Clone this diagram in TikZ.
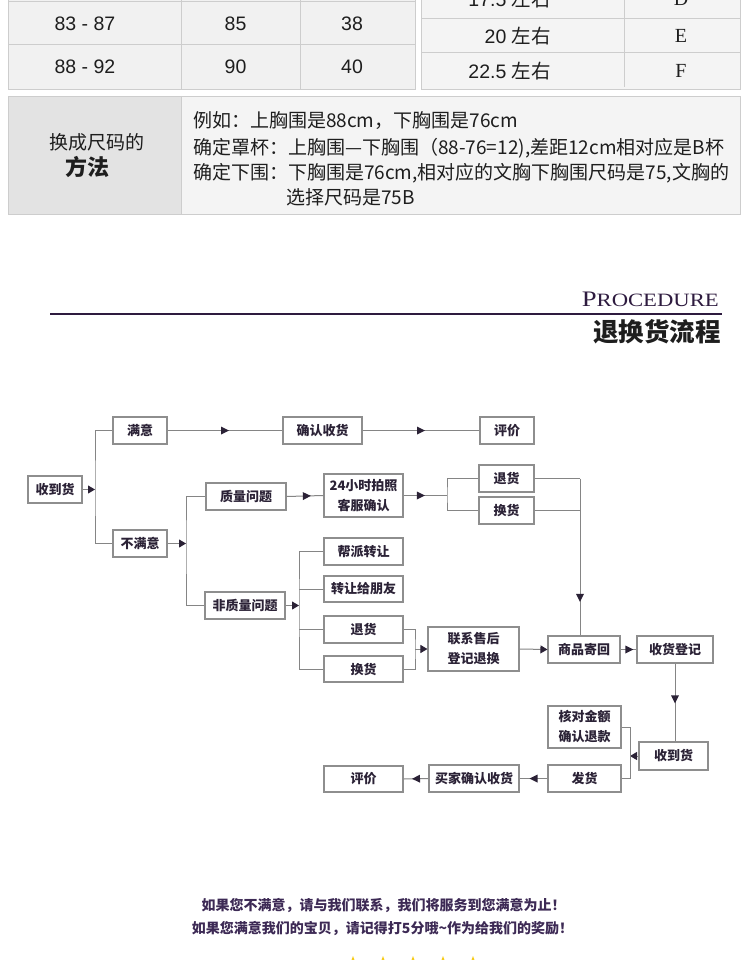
\documentclass[tikz,border=0pt]{standalone}
\usepackage{fontspec}
\setmainfont{Liberation Sans}
\newfontfamily\cjk{Noto Sans CJK SC}
\newfontfamily\serifE{Liberation Serif}
\usetikzlibrary{arrows.meta,decorations.markings,shapes.geometric}
\definecolor{cellbg}{HTML}{F1F1F1}
\definecolor{cellbgb}{HTML}{F4F4F4}
\definecolor{leftbg}{HTML}{E3E3E3}
\definecolor{cellln}{HTML}{CDCDCD}
\definecolor{txt}{HTML}{1E1E1E}
\definecolor{boxln}{HTML}{8E8E8E}
\definecolor{flowtxt}{HTML}{2B2236}
\definecolor{lnc}{HTML}{858585}
\definecolor{arr}{HTML}{2B2236}
\definecolor{purp}{HTML}{2E1B3F}
\definecolor{msg}{HTML}{3D2A55}
\definecolor{staryellow}{HTML}{F6CB1A}
\tikzset{
  fbox/.style={draw=boxln, line width=1.1pt, fill=white, minimum height=27pt, inner sep=0pt,
    font=\cjk\bfseries\fontsize{13}{20}\selectfont, text=flowtxt, align=center},
  conn/.style={draw=lnc, line width=1pt},
  midarrow/.style={postaction={decorate}, decoration={markings,
    mark=at position #1 with {\fill[arr] (-4pt,-4pt) -- (4pt,0pt) -- (-4pt,4pt) -- cycle;}}},
  endarrow/.style={-{Triangle[length=7pt,width=8pt,color=arr]}},
  tabnum/.style={font=\fontsize{19.5}{19.5}\selectfont, text=txt, inner sep=0pt},
  tabletter/.style={font=\serifE\fontsize{20}{20}\selectfont, text=txt, inner sep=0pt},
  methodtxt/.style={font=\cjk\fontsize{19}{19}\selectfont, text=txt, inner sep=0pt, anchor=west},
  msgtext/.style={font=\cjk\bfseries\fontsize{14}{14}\selectfont, text=msg, inner sep=0pt},
  staricon/.style={star, star points=5, star point ratio=2.4, fill=staryellow, minimum size=28pt, inner sep=0pt}
}
\begin{document}
\begin{tikzpicture}[x=1pt,y=-1pt]
\useasboundingbox (0,0) rectangle (750,960);
\fill[white] (0,0) rectangle (750,960);

% ---- top size tables
\fill[cellbg] (8,-10) rectangle (415,89);
\draw[cellln, line width=0.9pt] (8,-10) -- (8,89) -- (415,89) -- (415,-10);
\draw[cellln, line width=0.9pt] (8,1.5) -- (415,1.5) (8,44.5) -- (415,44.5) (181,-10) -- (181,89) (300,-10) -- (300,89);
\node[tabnum] (a1) at (85,24) {83 - 87};
\node[tabnum] (a2) at (235.5,24) {85};
\node[tabnum] (a3) at (352,24) {38};
\node[tabnum] (b1) at (85,67) {88 - 92};
\node[tabnum] (b2) at (235.5,67) {90};
\node[tabnum] (b3) at (352,67) {40};

\fill[cellbgb] (421,-10) rectangle (740,89);
\draw[cellln, line width=0.9pt] (421,-10) -- (421,89) -- (740,89) -- (740,-10);
\draw[cellln, line width=0.9pt] (421,18) -- (740,18) (421,52.5) -- (740,52.5) (624,-10) -- (624,87);
\node[tabnum, anchor=east] (c1) at (551,-1) {17.5 {\cjk 左右}};
\node[tabletter] (c2) at (681,-1) {D};
\node[tabnum, anchor=east] (d1) at (551,36) {20 {\cjk 左右}};
\node[tabletter] (d2) at (681,36) {E};
\node[tabnum, anchor=east] (e1) at (551,71) {22.5 {\cjk 左右}};
\node[tabletter] (e2) at (681,71) {F};

% ---- method table
\fill[leftbg] (8,96) rectangle (181,214);
\fill[cellbgb] (181,96) rectangle (740,214);
\draw[cellln, line width=0.9pt] (8,96) rectangle (740,214) (181,96) -- (181,214);
\node[font=\cjk\fontsize{19}{19}\selectfont, text=txt, inner sep=0pt] (m0) at (97,142) {换成尺码的};
\node[font=\cjk\bfseries\fontsize{22}{22}\selectfont, text=txt, inner sep=0pt] (m00) at (87,167) {方法};
\node[methodtxt] (t1) at (193,121) {例如：上胸围是88cm，下胸围是76cm};
\node[methodtxt] (t2) at (193,148) {确定罩杯：上胸围—下胸围（88-76=12),差距12cm相对应是B杯};
\node[methodtxt] (t3) at (193,173) {确定下围：下胸围是76cm,相对应的文胸下胸围尺码是75,文胸的};
\node[methodtxt] (t4) at (286,197) {选择尺码是75B};

% ---- header
\node[anchor=base east, inner sep=0pt, text=purp] (proc) at (719,306)
  {\resizebox{137pt}{14.5pt}{\serifE\fontsize{20}{20}\selectfont P\fontsize{17}{17}\selectfont ROCEDURE}};
\draw[purp, line width=1.2pt] (50,314) -- (722,314);
\node[anchor=east, inner sep=0pt, font=\cjk\bfseries\fontsize{25.5}{25.5}\selectfont, text=txt] (title) at (721,332) {退换货流程};

% ---- flowchart nodes
\node[fbox, minimum width=54pt] (shou1) at (55,489.5) {收到货};
\node[fbox, minimum width=54pt] (manyi) at (140,430.5) {满意};
\node[fbox, minimum width=54pt] (bumanyi) at (140,543.5) {不满意};
\node[fbox, minimum width=79pt] (queren) at (322.5,430.5) {确认收货};
\node[fbox, minimum width=54pt] (pj1) at (507,430.5) {评价};
\node[fbox, minimum width=80pt] (zl) at (246,496.5) {质量问题};
\node[fbox, minimum width=79pt, minimum height=43pt] (h24) at (363.5,495.5) {24小时拍照\\客服确认};
\node[fbox, minimum width=55pt] (tui1) at (506.5,478.5) {退货};
\node[fbox, minimum width=55pt] (huan1) at (506.5,510.5) {换货};
\node[fbox, minimum width=80pt] (fzl) at (245,605.5) {非质量问题};
\node[fbox, minimum width=79pt] (bp) at (363.5,551.5) {帮派转让};
\node[fbox, minimum width=79pt, minimum height=26pt] (zr) at (363.5,589) {转让给朋友};
\node[fbox, minimum width=79pt] (tui2) at (363.5,629.5) {退货};
\node[fbox, minimum width=79pt, minimum height=26pt] (huan2) at (363.5,669) {换货};
\node[fbox, minimum width=91pt, minimum height=44pt] (lx) at (473.5,649) {联系售后\\登记退换};
\node[fbox, minimum width=72pt] (sp) at (584,649.5) {商品寄回};
\node[fbox, minimum width=76pt] (shdj) at (675,649.5) {收货登记};
\node[fbox, minimum width=73pt, minimum height=42pt] (hd) at (584.5,727) {核对金额\\确认退款};
\node[fbox, minimum width=69pt, minimum height=28pt] (shou2) at (673.5,756) {收到货};
\node[fbox, minimum width=73pt] (fh) at (584.5,778.5) {发货};
\node[fbox, minimum width=90pt] (mj) at (474,778.5) {买家确认收货};
\node[fbox, minimum width=79pt, minimum height=26pt] (pj2) at (363.5,779) {评价};

\coordinate (j1) at (95,489.5);
\coordinate (j2) at (186,543.5);
\coordinate (j3) at (447,495.5);
\coordinate (j4) at (580,478.5);
\coordinate (j6) at (299,605.5);
\coordinate (j7) at (415,649);
\coordinate (j8) at (630,756);

% ---- connectors
\draw[conn, endarrow] (shou1.east) -- (j1);
\draw[conn] (manyi.west) -| (j1) |- (bumanyi.west);
\draw[conn, midarrow=0.5] (manyi.east) -- (queren.west);
\draw[conn, midarrow=0.5] (queren.east) -- (pj1.west);
\draw[conn, endarrow] (bumanyi.east) -- (j2);
\draw[conn] (zl.west) -| (j2) |- (fzl.west);
\draw[conn, midarrow=0.55] (zl.east) -- (h24.west);
\draw[conn, midarrow=0.4] (h24.east) -- (j3);
\draw[conn] (tui1.west) -| (j3) |- (huan1.west);
\draw[conn] (tui1.east) -- (j4);
\draw[conn] (huan1.east) -- (j4 |- huan1.east);
\draw[conn, midarrow=0.76] (j4) -- (j4 |- sp.north);
\draw[conn, endarrow] (fzl.east) -- (j6);
\draw[conn] (bp.west) -| (j6) |- (huan2.west);
\draw[conn] (zr.west) -- (j6 |- zr.west);
\draw[conn] (tui2.west) -- (j6 |- tui2.west);
\draw[conn] (tui2.east) -| (j7) |- (huan2.east);
\draw[conn, endarrow] (j7) -- (lx.west);
\draw[conn, endarrow] (lx.east) -- (sp.west);
\draw[conn, midarrow=0.55] (sp.east) -- (shdj.west);
\draw[conn, midarrow=0.46] (shdj.south) -- (shdj.south |- shou2.north);
\draw[conn, endarrow] (shou2.west) -- (j8);
\draw[conn] (hd.east) -| (j8) |- (fh.east);
\draw[conn, midarrow=0.5] (fh.west) -- (mj.east);
\draw[conn, midarrow=0.5] (mj.west) -- (pj2.east);

% ---- bottom message
\node[msgtext] (msg1) at (383.5,905) {如果您不满意，请与我们联系，我们将服务到您满意为止！};
\node[msgtext] (msg2) at (382.5,928) {如果您满意我们的宝贝，请记得打5分哦\textasciitilde 作为给我们的奖励！};
\node[staricon] (s1) at (353,970) {};
\node[staricon] (s2) at (383,970) {};
\node[staricon] (s3) at (413,970) {};
\node[staricon] (s4) at (443,970) {};
\node[staricon] (s5) at (473,970) {};
\end{tikzpicture}
\end{document}
